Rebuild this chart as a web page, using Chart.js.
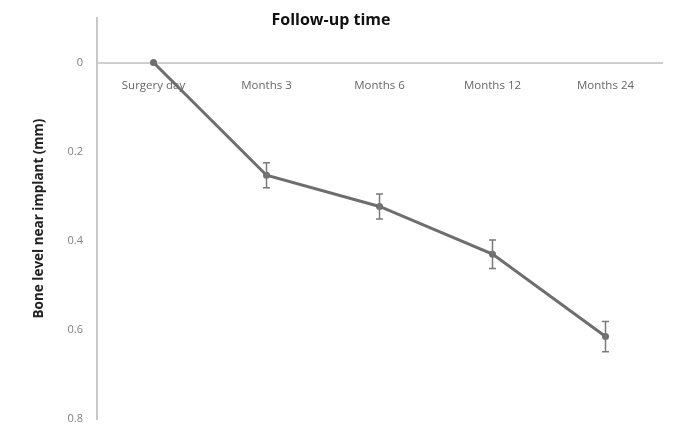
<!DOCTYPE html>
<html><head><meta charset="utf-8">
<script src="https://cdn.jsdelivr.net/npm/chart.js@4"></script>
<style>html,body{margin:0;padding:0;background:#fff}#wrap{width:678px;height:434px}</style>
</head><body><div id="wrap"><canvas id="c"></canvas></div>
<script>
const categories = ["Surgery day", "Months 3", "Months 6", "Months 12", "Months 24"];
const boneLevel = [0.0, 0.253, 0.323, 0.430, 0.615];
const errorValues = [0.0, 0.028, 0.028, 0.032, 0.034];
const yTicks = [0, 0.2, 0.4, 0.6, 0.8];

const errorBars = {
  id: 'errorBars',
  afterDatasetsDraw(chart) {
    const ctx = chart.ctx, x = chart.scales.x, y = chart.scales.y;
    ctx.save();
    ctx.strokeStyle = '#7a7a7a';
    ctx.lineWidth = 1.5;
    boneLevel.forEach((v, i) => {
      const e = errorValues[i];
      if (!e) return;
      const px = x.getPixelForValue(i);
      const t = y.getPixelForValue(v - e), b = y.getPixelForValue(v + e);
      ctx.beginPath();
      ctx.moveTo(px, t); ctx.lineTo(px, b);
      ctx.moveTo(px - 3.5, t); ctx.lineTo(px + 3.5, t);
      ctx.moveTo(px - 3.5, b); ctx.lineTo(px + 3.5, b);
      ctx.stroke();
    });
    ctx.restore();
  }
};

new Chart(document.getElementById('c'), {
  type: 'line',
  data: {
    labels: categories,
    datasets: [{
      data: boneLevel,
      borderColor: '#6e6e6e',
      backgroundColor: '#6e6e6e',
      borderWidth: 3,
      pointRadius: 3.5,
      pointBorderWidth: 0,
      tension: 0
    }]
  },
  options: {
    responsive: true,
    maintainAspectRatio: false,
    animation: false,
    layout: { padding: { top: 0, right: 16, bottom: 15, left: 0 } },
    plugins: {
      legend: { display: false },
      tooltip: { enabled: false },
      title: {
        display: true,
        text: 'Follow-up time',
        color: '#111',
        font: { family: 'Open Sans', size: 16, weight: 'bold' },
        padding: { top: 11, bottom: -12.2 }
      }
    },
    scales: {
      x: {
        type: 'category',
        position: { y: 0 },
        offset: true,
        grid: { display: false, drawTicks: false },
        border: { display: true, color: '#cfcfcf', width: 2 },
        ticks: {
          color: '#666',
          padding: 16,
          maxRotation: 0,
          font: { family: 'Open Sans', size: 11.5 }
        }
      },
      y: {
        type: 'linear',
        reverse: true,
        min: -0.1,
        max: 0.8,
        afterBuildTicks(scale) { scale.ticks = yTicks.map(v => ({ value: v })); },
        afterFit(scale) { scale.width = 97; scale.paddingTop = 0; scale.paddingBottom = 0; },
        grid: { display: false, drawTicks: false },
        border: { display: true, color: '#c8c8c8', width: 2 },
        ticks: {
          color: '#808080',
          padding: 14,
          font: { family: 'Open Sans', size: 11 },
          callback: v => String(v)
        },
        title: {
          display: true,
          text: 'Bone level near implant (mm)',
          color: '#222',
          font: { family: 'Open Sans', size: 13.5, weight: 'bold' },
          padding: { top: 31, bottom: 0 }
        }
      }
    }
  },
  plugins: [errorBars]
});
</script>
</body></html>
